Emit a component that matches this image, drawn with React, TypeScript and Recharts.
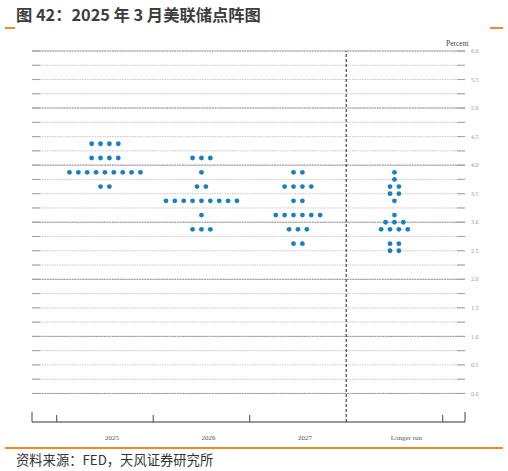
import React from 'react';
import {
  ScatterChart,
  Scatter,
  XAxis,
  YAxis,
  CartesianGrid,
  ReferenceLine
} from 'recharts';

// FOMC participants' midpoint projections (March 2025 SEP), count of dots per level
const RATE_LEVELS = [4.375, 4.125, 3.875, 3.75, 3.625, 3.5, 3.375, 3.125, 3.0, 2.875, 2.625, 2.5];
const COUNTS_2025 = [4, 4, 9, 0, 2, 0, 0, 0, 0, 0, 0, 0];
const COUNTS_2026 = [0, 3, 1, 0, 2, 0, 9, 1, 0, 3, 0, 0];
const COUNTS_2027 = [0, 0, 2, 0, 4, 0, 2, 6, 0, 3, 2, 0];
const COUNTS_LONGER = [0, 0, 1, 1, 2, 2, 1, 1, 3, 4, 2, 2];

const CATEGORIES = ['2025', '2026', '2027', 'Longer run'];
const CATEGORY_COUNTS = [COUNTS_2025, COUNTS_2026, COUNTS_2027, COUNTS_LONGER];

const GRID_LEVELS = [
  0, 0.25, 0.5, 0.75, 1, 1.25, 1.5, 1.75, 2, 2.25, 2.5, 2.75, 3,
  3.25, 3.5, 3.75, 4, 4.25, 4.5, 4.75, 5, 5.25, 5.5, 5.75, 6
];
const INTEGER_LEVELS = [0, 1, 2, 3, 4, 5, 6];
const BOUNDARY_TICKS = [-0.5, 0.5, 1.5, 3.5];

const X_DOMAIN: [number, number] = [-0.756, 3.731];
const Y_DOMAIN: [number, number] = [-0.5, 6];
const DOT_GAP = 0.092; // horizontal gap between dots in a row, in category units
const GRID_END = 0.085; // solid stub at both ends of each gridline, in category units
const TICK_SHORT = 0.123; // bottom axis tick heights, in percent units
const TICK_LONG = 0.175;

// one point per participant, rows centred on their category
const points = CATEGORY_COUNTS.flatMap((counts, ci) =>
  counts.flatMap((n, li) =>
    Array.from({ length: n }, (_, j) => ({
      x: ci + (j - (n - 1) / 2) * DOT_GAP,
      y: RATE_LEVELS[li]
    }))
  )
);

const SERIF = '"Liberation Serif", "DejaVu Serif", serif';
const CJK = '"Noto Sans CJK SC", "Noto Sans", sans-serif';
const ORANGE = '#f0892a';
const DOT = '#1a80bd';
const AXIS = '#444';

const CategoryTick = (props: any) => {
  const { x, y, payload } = props;
  const label = CATEGORIES[payload.value] ?? '';
  const dx = payload.value === 3 ? 12 : 7;
  return (
    <text x={x + dx} y={y} dy="0.71em" textAnchor="middle" fontFamily={SERIF} fontSize={7} fill="#555">
      {label}
    </text>
  );
};

export default function App() {
  const [x0, x1] = X_DOMAIN;
  const yb = Y_DOMAIN[0];
  return (
    <div style={{ position: 'absolute', left: 0, top: 0, width: 508, height: 471, background: '#fff' }}>
      <div
        style={{
          position: 'absolute', left: 16, top: 3, fontFamily: CJK, fontWeight: 700,
          fontSize: 16.3, color: '#3d3d3d', whiteSpace: 'nowrap', lineHeight: '22px'
        }}
      >
        图 42：2025 年 3 月美联储点阵图
      </div>
      <div style={{ position: 'absolute', left: 5, top: 27, width: 10, height: 2, background: ORANGE }} />
      <div style={{ position: 'absolute', left: 490, top: 27, width: 13, height: 2, background: ORANGE }} />

      <div
        style={{
          position: 'absolute', left: 446, top: 39, fontFamily: SERIF, fontSize: 7.5,
          color: '#444', lineHeight: '10px'
        }}
      >
        Percent
      </div>

      <div style={{ position: 'absolute', left: 0, top: 0 }}>
        <ScatterChart width={508} height={445} margin={{ top: 51, right: 0, bottom: 0, left: 32 }}>
          <CartesianGrid
            vertical={false}
            stroke="#c6c6c6"
            strokeDasharray="1.5 1"
          />
          <XAxis
            type="number"
            dataKey="x"
            domain={X_DOMAIN}
            ticks={[0, 1, 2, 3]}
            tick={<CategoryTick />}
            tickLine={false}
            tickMargin={7}
            axisLine={false}
            height={23}
            allowDataOverflow
          />
          <YAxis
            orientation="right"
            type="number"
            dataKey="y"
            domain={Y_DOMAIN}
            ticks={GRID_LEVELS}
            interval={0}
            width={43}
            axisLine={false}
            tickLine={false}
            tickSize={0}
            tickMargin={6}
            tick={{ fontFamily: SERIF, fontSize: 6, fill: '#999' }}
            tickFormatter={(v: number) => (v * 2) % 1 === 0 ? v.toFixed(1) : ''}
            allowDataOverflow
          />
          {INTEGER_LEVELS.map((v) => (
            <ReferenceLine key={`i${v}`} y={v} stroke="#999" strokeDasharray="2 0.7" />
          ))}
          {GRID_LEVELS.map((v) => (
            <ReferenceLine
              key={`l${v}`}
              segment={[{ x: x0, y: v }, { x: x0 + GRID_END, y: v }]}
              stroke="#a0a0a0"
            />
          ))}
          {GRID_LEVELS.map((v) => (
            <ReferenceLine
              key={`r${v}`}
              segment={[{ x: x1 - GRID_END, y: v }, { x: x1, y: v }]}
              stroke="#a0a0a0"
            />
          ))}
          <ReferenceLine x={2.5} stroke="#222" strokeDasharray="3 2" />
          <ReferenceLine segment={[{ x: x0, y: yb }, { x: x1, y: yb }]} stroke={AXIS} />
          {BOUNDARY_TICKS.map((b) => (
            <ReferenceLine
              key={`b${b}`}
              segment={[{ x: b, y: yb }, { x: b, y: yb + TICK_SHORT }]}
              stroke={AXIS}
            />
          ))}
          {X_DOMAIN.map((b) => (
            <ReferenceLine
              key={`e${b}`}
              segment={[{ x: b, y: yb }, { x: b, y: yb + TICK_LONG }]}
              stroke={AXIS}
            />
          ))}
          <Scatter
            data={points}
            isAnimationActive={false}
            shape={(p: any) => <circle cx={p.cx} cy={p.cy} r={2.4} fill={DOT} />}
          />
        </ScatterChart>
      </div>

      <div style={{ position: 'absolute', left: 5, top: 447, width: 498, height: 2, background: ORANGE }} />
      <div
        style={{
          position: 'absolute', left: 16, top: 451, fontFamily: CJK, fontSize: 13.3,
          color: '#333', whiteSpace: 'nowrap', lineHeight: '18px'
        }}
      >
        资料来源：FED，天风证券研究所
      </div>
    </div>
  );
}
